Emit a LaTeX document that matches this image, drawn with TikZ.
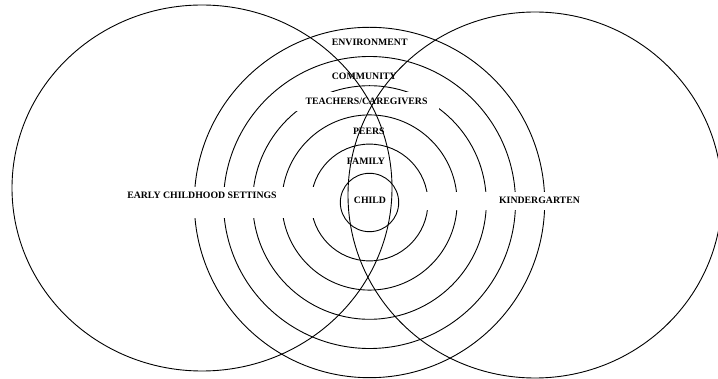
\documentclass[tikz,border=0pt]{standalone}
\usepackage{fontspec}
\setmainfont{Liberation Serif}
\usepackage{tikz}
\usetikzlibrary{positioning}
\tikzstyle{ring} = [line width=0.9pt]
\tikzstyle{setting} = [line width=0.9pt]
\tikzstyle{lbl} = [font=\bfseries\fontsize{9.8}{11}\selectfont, text height=6.6pt, text depth=0pt, inner sep=0pt]
\tikzstyle{gap} = [fill=white]

\begin{document}
\begin{tikzpicture}[x=1pt, y=-1pt]
\useasboundingbox (0,0) rectangle (718,379);
\coordinate (ctr) at (369.5,202.5);

% rings round the child
\draw [ring] (ctr) circle [radius=29.2pt];
\draw [ring] (ctr) circle [radius=58.4pt];
\draw [ring] (ctr) circle [radius=87.6pt];
\draw [ring] (ctr) circle [radius=116.8pt];
\draw [ring] (ctr) circle [radius=146pt];
\draw [ring] (ctr) circle [radius=175.2pt];

% white bands for the side labels
\fill [gap] (120,187) rectangle (325,218);
\fill [gap] (415,192) rectangle (590,210);

\node (child) [lbl] at (370,200.7) {CHILD};
\node (family) [lbl] at (366,161) {FAMILY};
\node (peers) [lbl] at (368.8,131.7) {PEERS};
\node (teachers) [lbl, fill=white, inner xsep=11.5pt, inner ysep=6pt] at (366.5,101.7) {TEACHERS/CAREGIVERS};
\node (community) [lbl] at (364.3,76) {COMMUNITY};
\node (environment) [lbl] at (369.7,42.3) {ENVIRONMENT};

% the two settings
\draw [setting] (202,188) ellipse [x radius=190pt, y radius=183pt];
\draw [setting] (535,195) ellipse [x radius=187pt, y radius=183pt];
\node (ecs) [lbl] at (202,195.7) {EARLY CHILDHOOD SETTINGS};
\node (kinder) [lbl] at (539.5,200.7) {KINDERGARTEN};
\end{tikzpicture}
\end{document}
